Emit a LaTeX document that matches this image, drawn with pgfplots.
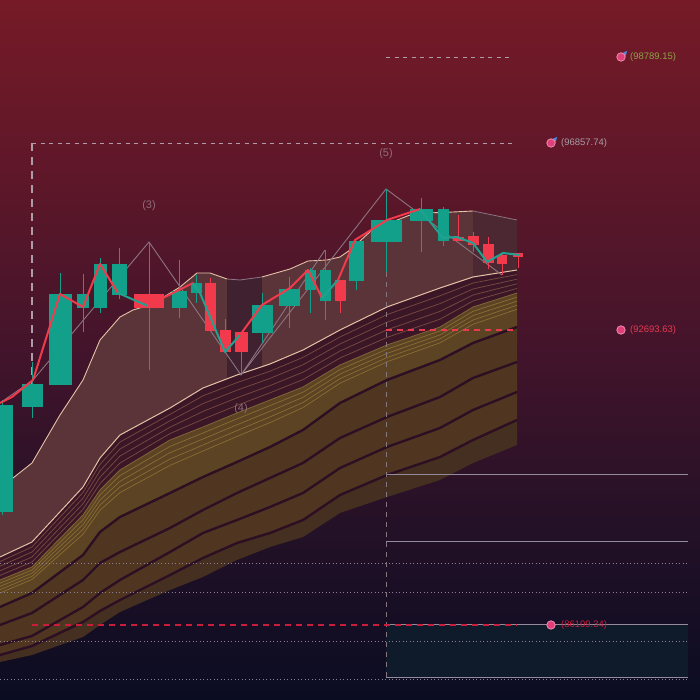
\documentclass[border=0pt]{standalone}
\usepackage{pgfplots}
\pgfplotsset{compat=1.18}
\usepackage{pgfplotstable}
\usepgfplotslibrary{fillbetween}
\usepackage{fontspec}
\setmainfont{Liberation Sans}

\definecolor{bg0}{HTML}{761A27}
\definecolor{bg1}{HTML}{5E1729}
\definecolor{bg2}{HTML}{43142B}
\definecolor{bg3}{HTML}{241127}
\definecolor{bg4}{HTML}{0A0C22}
\definecolor{cGreen}{HTML}{13A08A}
\definecolor{cRed}{HTML}{F23A4C}
\definecolor{cTeal}{HTML}{22A090}
\definecolor{cCream}{HTML}{E6C2A6}
\definecolor{cLight}{HTML}{5A3438}
\definecolor{cDarkBox}{HTML}{3F2130}
\definecolor{cDarkBox2}{HTML}{4C2833}
\definecolor{cRibDark}{HTML}{3A1627}
\definecolor{cRibLine}{HTML}{74483F}
\definecolor{cGold}{HTML}{5C4324}
\definecolor{cGoldLine}{HTML}{8A6E33}
\definecolor{cBrown}{HTML}{503621}
\definecolor{cBrown2}{HTML}{452F20}
\definecolor{cThick}{HTML}{2C0F22}
\definecolor{cGray}{HTML}{8C7482}
\definecolor{cDash}{HTML}{B09CA8}
\definecolor{cGrid}{HTML}{8A7F95}
\definecolor{cSolid}{HTML}{958A9C}
\definecolor{cBox}{HTML}{0F1B2A}
\definecolor{cPink}{HTML}{E0407A}
\definecolor{cPinkL}{HTML}{F08AAE}
\definecolor{cBlue}{HTML}{4A8EE0}
\definecolor{cOlive}{HTML}{8EA048}
\definecolor{cLblGray}{HTML}{A89CA6}
\definecolor{cLblRed}{HTML}{E83A50}
\definecolor{cLblRed2}{HTML}{C81E3C}
\definecolor{cWave}{HTML}{8E6C78}

\pgfdeclareverticalshading{bgshade}{100bp}{color(0bp)=(bg4); color(25bp)=(bg4); color(37.5bp)=(bg3); color(50bp)=(bg2); color(62.5bp)=(bg1); color(75bp)=(bg0); color(100bp)=(bg0)}

% ribbon curves (x in px, y in px from top)
\pgfplotstableread{
x c0 d1 d2 d3 d4 gt g1 g2 g3 g4 t1 t2 t3 t4 b
0 557 561.6 566.2 570.8 575.4 580 583.2 586.5 589.7 593 607 625 645 655 662
32 542 547 552 557 562 567 570.1 573.2 576.4 579.5 593 613 636 646 655
83 487 492.6 498.2 503.8 509.4 515 519.8 524.6 529.4 534.2 555 580 607 622 637
100 458 464.4 470.8 477.2 483.6 490 495 500.1 505.1 510.2 532 563 593 611 625
120 435 442 449 456 463 470 475.6 481.3 486.9 492.6 517 552 580 600 612
170 408 414.4 420.8 427.2 433.6 440 446.4 452.7 459.1 465.4 493 528 552 575 590
203 388 395.8 403.6 411.4 419.2 427 433 439 445 451 477 510 533 558 577
237 375 382.6 390.2 397.8 405.4 413 418.9 424.8 430.6 436.5 462 493 520 543 560
270 364 371.2 378.4 385.6 392.8 400 405.6 411.3 416.9 422.6 447 478 507 533 547
303 350 357.4 364.8 372.2 379.6 387 392.2 397.3 402.5 407.6 430 463 493 520 537
340 330 337 344 351 358 365 369.6 374.1 378.7 383.2 403 438 468 495 513
387 307 314.6 322.2 329.8 337.4 345 349.2 353.4 357.6 361.8 380 417 447 475 497
440 288 295.8 303.6 311.4 319.2 327 331 334.9 338.9 342.8 360 397 428 457 480
473 277 283 289 295 301 307 311.3 315.6 320 324.3 343 378 410 440 463
517 270 274.6 279.2 283.8 288.4 293 297.1 301.2 305.2 309.3 327 362 392 420 445
}\rib

% candle: xl, xr, xc, body top, body bottom, high, low, colour
\newcommand{\candle}[8]{%
  \addplot[draw=#8, line width=1bp] coordinates {(#3,#6) (#3,#7)};
  \addplot[fill=#8, draw=none] coordinates {(#1,#4) (#2,#4) (#2,#5) (#1,#5)} -- cycle;
}

\begin{document}
\begin{tikzpicture}
\begin{axis}[
  width=700bp, height=700bp, scale only axis,
  xmin=0, xmax=700, ymin=0, ymax=700, y dir=reverse,
  hide axis, clip=true, set layers,
]
% background
\begin{pgfonlayer}{axis background}
\path[shading=bgshade] (rel axis cs:0,0) rectangle (rel axis cs:1,1);
\end{pgfonlayer}

% right-hand box
\addplot[fill=cBox, draw=none] coordinates {(386,625) (688,625) (688,678) (386,678)} -- cycle;

% ribbon
\addplot[name path=c0, draw=none] table[x=x, y=c0] {\rib};
\addplot[name path=gt, draw=none] table[x=x, y=gt] {\rib};
\addplot[name path=t1, draw=none] table[x=x, y=t1] {\rib};
\addplot[name path=t4, draw=none] table[x=x, y=t4] {\rib};
\addplot[name path=bb, draw=none] table[x=x, y=b] {\rib};
\addplot[fill=cRibDark, draw=none] fill between[of=c0 and gt];
\addplot[fill=cGold, draw=none] fill between[of=gt and t1];
\addplot[fill=cBrown, draw=none] fill between[of=t1 and t4];
\addplot[fill=cBrown2, draw=none] fill between[of=t4 and bb];
\foreach \c in {d1,d2,d3,d4} {
  \addplot[cRibLine, line width=0.8bp] table[x=x, y=\c] {\rib};
}
\addplot[cGoldLine!70!cRibLine, line width=0.8bp] table[x=x, y=gt] {\rib};
\foreach \c in {g1,g2,g3,g4} {
  \addplot[cGoldLine, line width=0.7bp] table[x=x, y=\c] {\rib};
}
\foreach \c in {t1,t2,t3,t4} {
  \addplot[cThick, line width=2.4bp] table[x=x, y=\c] {\rib};
}

% dotted horizontal levels
\addplot[cGrid, line width=0.8bp, dash pattern=on 1bp off 2.5bp] coordinates {(0,563) (688,563)};
\addplot[cGrid, line width=0.8bp, dash pattern=on 1bp off 2.5bp] coordinates {(0,592) (688,592)};
\addplot[cGrid, line width=0.8bp, dash pattern=on 1bp off 2.5bp] coordinates {(0,641) (688,641)};
\addplot[cGrid, line width=0.8bp, dash pattern=on 1bp off 2.5bp] coordinates {(0,679) (688,679)};

% upper light band
\addplot[fill=cLight, draw=none] coordinates {(0,492) (13,478) (32,463) (60,415) (83,380) (100,340) (120,317) (133,310) (150,305) (167,295) (180,287) (197,273) (210,273) (227,279) (227,379) (203,388) (170,408) (120,435) (100,458) (83,487) (32,542) (0,557)} -- cycle;
\addplot[fill=cDarkBox, draw=none] coordinates {(227,279) (240,280) (262,277) (262,367) (237,375) (227,379)} -- cycle;
\addplot[fill=cLight, draw=none] coordinates {(262,277) (290,269) (308,261) (327,260) (340,257) (350,250) (372,230) (410,215) (427,213) (453,212) (473,211) (473,277) (440,288) (387,307) (340,330) (303,350) (270,364) (262,367)} -- cycle;
\addplot[fill=cDarkBox2, draw=none] coordinates {(473,211) (517,220) (517,270) (473,277)} -- cycle;
\addplot[cCream, line width=0.9bp] coordinates {(0,492) (13,478) (32,463) (60,415) (83,380) (100,340) (120,317) (133,310) (150,305) (167,295) (180,287) (197,273) (210,273) (227,279)};
\addplot[cGray, line width=0.8bp] coordinates {(227,279) (240,280) (262,277)};
\addplot[cCream, line width=0.9bp] coordinates {(262,277) (290,269) (308,261) (327,260) (340,257) (350,250) (372,230) (410,215) (427,213) (453,212) (473,211)};
\addplot[cGray, line width=0.8bp] coordinates {(473,211) (517,220)};
\addplot[cCream, line width=1bp] table[x=x, y=c0] {\rib};

% solid grey levels on the right
\addplot[cSolid, line width=1bp] coordinates {(386,475) (688,475)};
\addplot[cSolid, line width=1bp] coordinates {(386,542) (688,542)};
\addplot[cSolid, line width=1bp] coordinates {(386,625) (688,625)};
\addplot[cSolid, line width=1bp] coordinates {(386,678) (688,678)};

% dashed guides
\addplot[cDash, line width=1.6bp, dash pattern=on 8bp off 6bp] coordinates {(32,143) (32,388)};
\addplot[cDash, line width=0.9bp, dash pattern=on 4bp off 4.5bp] coordinates {(32,143) (516,143)};
\addplot[cDash, line width=0.9bp, dash pattern=on 4bp off 4.5bp] coordinates {(386,57) (512,57)};
\addplot[cDash!75!black, line width=0.9bp, dash pattern=on 5bp off 5bp] coordinates {(386,272) (386,678)};
\addplot[cLblRed, line width=1.4bp, dash pattern=on 6bp off 5bp] coordinates {(386,330) (517,330)};
\addplot[cLblRed2, line width=1.3bp, dash pattern=on 6bp off 5bp] coordinates {(32,625) (517,625)};

% wave structure
\addplot[cGray, line width=0.9bp] coordinates {(0,403) (33,380) (149,242) (241,375) (386,189) (502,275)};
\addplot[cGray, line width=0.9bp] coordinates {(241,375) (325,250)};

% candles
\candle{-9}{13}{2}{405}{512}{400}{515}{cGreen}
\candle{22}{43}{32.5}{384}{407}{362}{418}{cGreen}
\candle{49}{72}{60.5}{294}{385}{273}{385}{cGreen}
\candle{77}{89}{83}{294}{308}{274}{332}{cGreen}
\candle{94}{107}{100.5}{264}{308}{258}{313}{cGreen}
\candle{112}{127}{119.5}{264}{295}{248}{299}{cGreen}
\candle{134}{164}{149}{294}{308}{242}{370}{cRed}
\candle{172}{187}{179.5}{291}{308}{260}{318}{cGreen}
\candle{191}{202}{196.5}{283}{293}{275}{303}{cGreen}
\candle{205}{216}{210.5}{283}{331}{278}{331}{cRed}
\candle{220}{231}{225.5}{330}{352}{319}{352}{cRed}
\candle{235}{248}{241.5}{332}{352}{332}{373}{cRed}
\candle{252}{273}{262.5}{305}{333}{293}{343}{cGreen}
\candle{279}{300}{289.5}{289}{306}{277}{328}{cGreen}
\candle{305}{316}{310.5}{270}{290}{268}{313}{cGreen}
\candle{320}{331}{325.5}{270}{301}{250}{320}{cGreen}
\candle{335}{346}{340.5}{280}{301}{280}{313}{cRed}
\candle{349}{364}{356.5}{241}{281}{241}{290}{cGreen}
\candle{371}{402}{386.5}{220}{242}{189}{272}{cGreen}
\candle{410}{433}{421.5}{209}{221}{198}{252}{cGreen}
\candle{438}{449}{443.5}{209}{241}{207}{246}{cGreen}
\candle{453}{464}{458.5}{237}{241}{215}{241}{cRed}
\candle{468}{479}{473.5}{236}{245}{232}{252}{cRed}
\candle{483}{494}{488.5}{244}{263}{237}{269}{cRed}
\candle{497}{507}{502}{255}{264}{253}{275}{cRed}
\candle{513}{523}{518}{253}{257}{253}{268}{cRed}

% fast average line, coloured by segment
\addplot[cRed, line width=2bp, line join=round] coordinates {(0,403) (12,397) (33,380) (60,294) (83,307) (100,264) (118,293)};
\addplot[cTeal, line width=2bp, line join=round] coordinates {(118,293) (148,306)};
\addplot[cRed, line width=2bp, line join=round] coordinates {(148,306) (163,298) (193,283)};
\addplot[cTeal, line width=2bp, line join=round] coordinates {(193,283) (200,293) (225,352) (240,335)};
\addplot[cRed, line width=2bp, line join=round] coordinates {(240,335) (262,305) (290,288) (308,270) (322,298)};
\addplot[cTeal, line width=2bp, line join=round] coordinates {(322,298) (338,280)};
\addplot[cRed, line width=2bp, line join=round] coordinates {(338,280) (355,240) (387,220) (420,209)};
\addplot[cTeal, line width=2bp, line join=round] coordinates {(420,209) (443,238) (457,237) (473,243) (487,262) (503,253) (520,255)};

% level markers
\addplot[only marks, mark=*, mark size=4.2bp, mark options={fill=cPink, draw=cPinkL, line width=0.8bp}] coordinates {(621,57) (551,143) (621,330) (551,625)};
\addplot[cBlue, line width=1.3bp, -stealth] coordinates {(622,57) (627,51)};
\addplot[cBlue, line width=1.3bp, -stealth] coordinates {(552,143) (557,137)};

% labels
\node[anchor=west, text=cOlive, font=\fontsize{9.5}{11}\selectfont, inner sep=0pt] at (axis cs:630,57) {(98789.15)};
\node[anchor=west, text=cLblGray, font=\fontsize{9.5}{11}\selectfont, inner sep=0pt] at (axis cs:561,143) {(96857.74)};
\node[anchor=west, text=cLblRed, font=\fontsize{9.5}{11}\selectfont, inner sep=0pt] at (axis cs:630,330) {(92693.63)};
\node[anchor=west, text=cLblRed2, font=\fontsize{9.5}{11}\selectfont, inner sep=0pt] at (axis cs:561,625) {(86109.34)};
\node[text=cWave, font=\fontsize{11}{13}\selectfont] at (axis cs:149,206) {(3)};
\node[text=cWave, font=\fontsize{11}{13}\selectfont] at (axis cs:241,409) {(4)};
\node[text=cWave, font=\fontsize{11}{13}\selectfont] at (axis cs:386,154) {(5)};
\end{axis}
\end{tikzpicture}
\end{document}
